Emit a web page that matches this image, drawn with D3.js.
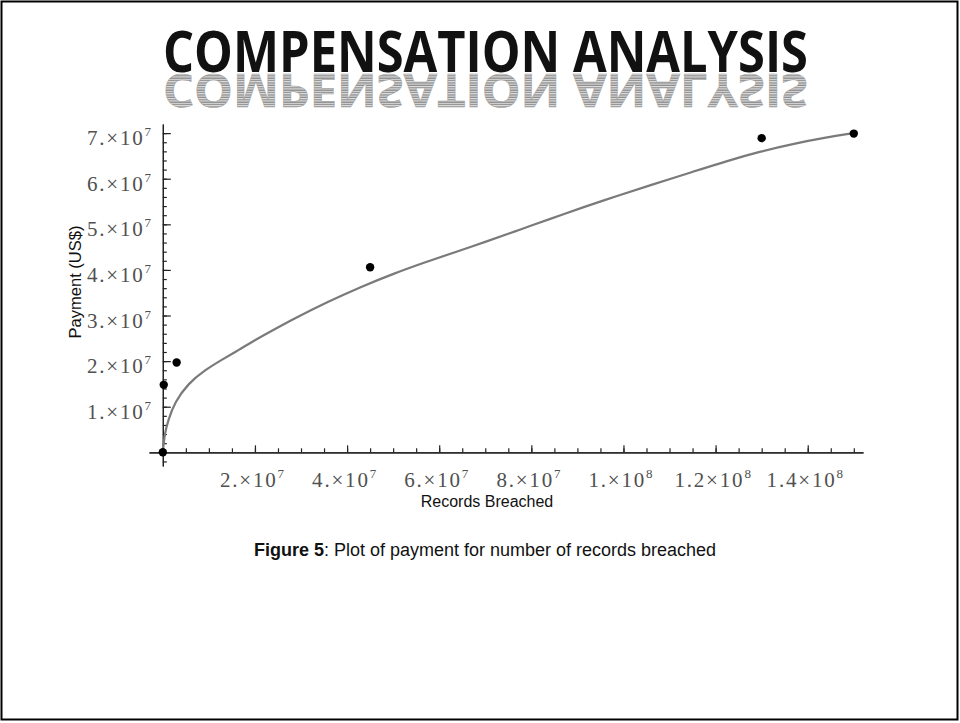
<!DOCTYPE html>
<html>
<head>
<meta charset="utf-8">
<script src="https://cdn.jsdelivr.net/npm/d3@7"></script>
<style>
  body { margin: 0; background: #fff; }
  .tick-label { font-family: 'Liberation Serif', 'DejaVu Serif', serif; font-size: 21px; fill: #505050; letter-spacing: 1.8px; }
  .axis-title { font-family: 'Liberation Sans', Arial, sans-serif; font-size: 16px; fill: #111; }
  .caption { font-family: 'Liberation Sans', Arial, sans-serif; font-size: 18px; fill: #111; }
</style>
</head>
<body>
<svg id="chart"></svg>
<script>
// observed cases
const recordsBreached = [0, 2e5, 3e6, 4.5e7, 1.3e8, 1.5e8]
const payments = [0, 1.48e7, 1.97e7, 4.06e7, 6.89e7, 6.99e7]

// fitted curve
const fitRecords = [0, 4e5, 1.15e6, 2.6e6, 5.5e6, 9.1e6, 1.28e7, 1.64e7, 2.0e7, 2.36e7, 2.83e7, 3.56e7,
    4.28e7, 5.01e7, 5.73e7, 6.46e7, 6.96e7, 7.69e7, 8.41e7, 9.14e7, 9.86e7, 1.059e8, 1.153e8,
    1.225e8, 1.298e8, 1.37e8, 1.443e8, 1.493e8]
const fitPayments = [0, 4.1e6, 7.0e6, 1.10e7, 1.51e7, 1.80e7, 2.03e7, 2.24e7, 2.46e7, 2.66e7, 2.92e7, 3.29e7,
    3.62e7, 3.92e7, 4.18e7, 4.43e7, 4.60e7, 4.86e7, 5.12e7, 5.38e7, 5.62e7, 5.86e7, 6.16e7,
    6.39e7, 6.60e7, 6.77e7, 6.91e7, 6.99e7]

// tick labels
const xTickValues = [2e7, 4e7, 6e7, 8e7, 1e8, 1.2e8, 1.4e8]
const xTickMantissa = ['2.', '4.', '6.', '8.', '1.', '1.2', '1.4']
const xTickExponent = ['7', '7', '7', '7', '8', '8', '8']
const yTickValues = [1e7, 2e7, 3e7, 4e7, 5e7, 6e7, 7e7]
const yTickMantissa = ['1.', '2.', '3.', '4.', '5.', '6.', '7.']
const yTickExponent = ['7', '7', '7', '7', '7', '7', '7']

const titleText = 'COMPENSATION ANALYSIS'
const xLabel = 'Records Breached'
const yLabel = 'Payment (US$)'

class PaymentPlot {

    constructor(config) {
        this.config = {
            parentElement: config.parentElement,
            width: config.width || 960,
            height: config.height || 723
        }
        this.initVis()
    }

    initVis() {
        let vis = this

        vis.svg = d3.select(vis.config.parentElement)
            .attr('width', vis.config.width)
            .attr('height', vis.config.height)

        // page frame
        vis.svg.append('rect')
            .attr('x', 1.5).attr('y', 1.5)
            .attr('width', 956).attr('height', 718)
            .attr('fill', 'none')
            .attr('stroke', '#000')
            .attr('stroke-width', 2)

        // striped fill for the title reflection
        const pat = vis.svg.append('defs').append('pattern')
            .attr('id', 'stripes')
            .attr('patternUnits', 'userSpaceOnUse')
            .attr('width', 8).attr('height', 3)
        pat.append('rect').attr('width', 8).attr('height', 3).attr('fill', '#e4e4e4')
        pat.append('rect').attr('width', 8).attr('height', 1.6).attr('fill', '#8a8a8a')

        vis.svg.append('text')
            .attr('x', 163).attr('y', 72)
            .attr('textLength', 645)
            .attr('lengthAdjust', 'spacingAndGlyphs')
            .style('font-family', "'Open Sans', sans-serif")
            .style('font-weight', 700)
            .style('font-size', '58px')
            .attr('fill', '#111')
            .text(titleText)

        // mirrored copy, squeezed a little
        vis.svg.append('text')
            .attr('transform', 'translate(0,74) scale(1,-0.8) translate(0,-72)')
            .attr('x', 163).attr('y', 72)
            .attr('textLength', 645)
            .attr('lengthAdjust', 'spacingAndGlyphs')
            .style('font-family', "'Open Sans', sans-serif")
            .style('font-weight', 700)
            .style('font-size', '58px')
            .attr('fill', 'url(#stripes)')
            .attr('stroke', '#9a9a9a')
            .attr('stroke-width', 0.6)
            .text(titleText)

        vis.xScale = d3.scaleLinear()
            .domain([-3e6, 1.52e8])
            .range([149, 863])

        vis.yScale = d3.scaleLinear()
            .domain([-3e6, 7.2e7])
            .range([466, 124])

        vis.chart = vis.svg.append('g')
    }

    renderVis() {
        let vis = this
        const x0 = vis.xScale(0)
        const y0 = vis.yScale(0)

        // minor ticks pointing inward, like Mathematica
        const xMinor = d3.axisBottom(vis.xScale)
            .tickValues(d3.range(5e6, 1.52e8, 5e6))
            .tickSizeInner(-4).tickSizeOuter(0)
            .tickFormat('')
        const xMajor = d3.axisBottom(vis.xScale)
            .tickValues(xTickValues)
            .tickSizeInner(-7).tickSizeOuter(0)
            .tickFormat('')

        vis.chart.append('g').attr('transform', `translate(0,${y0})`).call(xMinor)
        vis.chart.append('g').attr('transform', `translate(0,${y0})`).call(xMajor)

        const yMinor = d3.axisLeft(vis.yScale)
            .tickValues(d3.range(-2e6, 7.2e7, 2e6))
            .tickSizeInner(-4).tickSizeOuter(0)
            .tickFormat('')
        const yMajor = d3.axisLeft(vis.yScale)
            .tickValues(yTickValues)
            .tickSizeInner(-8).tickSizeOuter(0)
            .tickFormat('')

        vis.chart.append('g').attr('transform', `translate(${x0},0)`).call(yMinor)
        vis.chart.append('g').attr('transform', `translate(${x0},0)`).call(yMajor)

        vis.chart.selectAll('.domain, .tick line')
            .attr('stroke', '#222')
            .attr('stroke-width', 1.2)

        // tick labels with superscript exponents
        vis.chart.selectAll('.x-label')
            .data(xTickValues)
            .join('text')
            .attr('class', 'tick-label x-label')
            .attr('x', d => vis.xScale(d) - 2)
            .attr('y', y0 + 35)
            .attr('text-anchor', 'middle')
            .each(function(d, i) {
                const t = d3.select(this)
                t.append('tspan').text(xTickMantissa[i] + '×10')
                t.append('tspan').attr('dy', -9).style('font-size', '13px').text(xTickExponent[i])
            })

        vis.chart.selectAll('.y-label')
            .data(yTickValues)
            .join('text')
            .attr('class', 'tick-label y-label')
            .attr('x', x0 - 10)
            .attr('y', d => vis.yScale(d) + 12)
            .attr('text-anchor', 'end')
            .each(function(d, i) {
                const t = d3.select(this)
                t.append('tspan').text(yTickMantissa[i] + '×10')
                t.append('tspan').attr('dy', -9).style('font-size', '13px').text(yTickExponent[i])
            })

        vis.svg.append('text')
            .attr('class', 'axis-title')
            .attr('x', 487).attr('y', 507)
            .attr('text-anchor', 'middle')
            .text(xLabel)

        vis.svg.append('text')
            .attr('class', 'axis-title')
            .attr('transform', 'translate(81,282) rotate(-90)')
            .attr('text-anchor', 'middle')
            .style('font-size', '16.5px')
            .text(yLabel)

        // fitted curve
        const line = d3.line()
            .x((d, i) => vis.xScale(fitRecords[i]))
            .y((d, i) => vis.yScale(fitPayments[i]))
            .curve(d3.curveBasis)

        vis.chart.append('path')
            .datum(fitRecords)
            .attr('d', line)
            .attr('fill', 'none')
            .attr('stroke', '#7a7a7a')
            .attr('stroke-width', 2.2)

        vis.chart.selectAll('.point')
            .data(recordsBreached)
            .join('circle')
            .attr('class', 'point')
            .attr('r', 4.2)
            .attr('cx', d => vis.xScale(d))
            .attr('cy', (d, i) => vis.yScale(payments[i]))
            .attr('fill', '#000')

        const cap = vis.svg.append('text')
            .attr('class', 'caption')
            .attr('x', 485).attr('y', 556)
            .attr('text-anchor', 'middle')
        cap.append('tspan').style('font-weight', 700).text('Figure 5')
        cap.append('tspan').text(': Plot of payment for number of records breached')
    }
}

const plot = new PaymentPlot({ parentElement: '#chart' })
plot.renderVis()
</script>
</body>
</html>
